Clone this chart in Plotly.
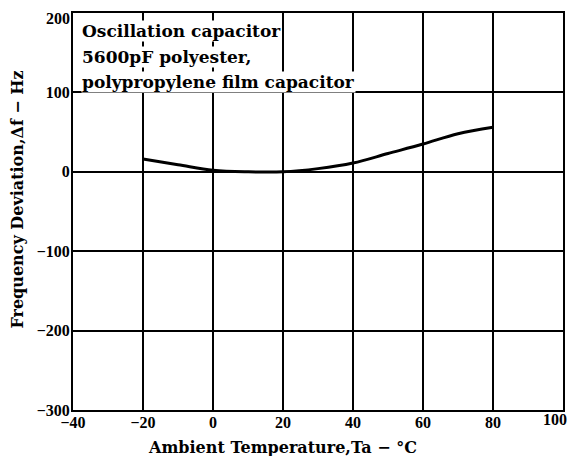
import plotly.graph_objects as go

temps = [-20, -10, 0, 10, 20, 30, 40, 50, 60, 70, 80]
deviation = [16, 9, 2, 0, 0, 4, 11, 23, 35, 48, 56]

x_ticks = [-40, -20, 0, 20, 40, 60, 80, 100]
x_labels = ["−40", "−20", "0", "20", "40", "60", "80", "100"]
y_ticks = [-300, -200, -100, 0, 100, 200]
y_labels = ["−300", "−200", "−100", "0", "100", "200"]
note_lines = ["Oscillation capacitor", "5600pF polyester,", "polypropylene film capacitor"]

FONT = "Liberation Serif"
TFONT = "DejaVu Serif"

# page body has an 8px margin; figure sized to fill the 577x464 window
W, H = 561, 448
L, T, R, B = 65, 5, 6, 46
PW, PH = W - L - R, H - T - B

fig = go.Figure()
fig.add_trace(go.Scatter(x=temps, y=deviation, mode="lines",
                         line=dict(color="black", width=3, shape="spline"),
                         showlegend=False, hoverinfo="skip"))

for i, (t, top) in enumerate(zip(note_lines, [12, 38, 63])):
    fig.add_annotation(xref="paper", yref="paper", x=8 / PW, y=1 - (top - T) / PH,
                       xanchor="left", yanchor="top", text=t, showarrow=False,
                       bgcolor="white", borderpad=0,
                       font=dict(family=TFONT, size=17, color="black", weight="bold"))

# axis titles
fig.add_annotation(xref="paper", yref="paper", x=(274 - L) / PW, y=-(428 - (T + PH)) / PH,
                   xanchor="center", yanchor="top", showarrow=False,
                   text="Ambient Temperature,Ta − °C",
                   font=dict(family=TFONT, size=16, color="black", weight="bold"))
fig.add_annotation(xref="paper", yref="paper", x=(10 - L) / PW, y=0.53,
                   xanchor="center", yanchor="middle", showarrow=False, textangle=-90,
                   text="Frequency Deviation,Δf − Hz",
                   font=dict(family=TFONT, size=16, color="black", weight="bold"))

tickfont = dict(family=FONT, size=16, color="black", weight="bold")
axis_common = dict(showgrid=True, gridcolor="black", zeroline=False, automargin=False,
                   showline=True, linecolor="black", linewidth=2, mirror=True,
                   ticks="", ticklabeloverflow="allow", tickfont=tickfont)

# edge labels drawn as anchored text so they stay inside the page
fig.add_annotation(xref="paper", yref="paper", x=(W - L) / PW, y=0,
                   xanchor="right", yanchor="top", yshift=1, showarrow=False,
                   text=x_labels[-1], font=tickfont)
fig.add_annotation(xref="paper", yref="paper", x=0, y=1 + T / PH,
                   xanchor="right", yanchor="top", xshift=-1, showarrow=False,
                   text=y_labels[-1], font=tickfont)

fig.update_xaxes(range=[-40, 100], tickvals=x_ticks[:-1], ticktext=x_labels[:-1],
                 gridwidth=2, ticklabelstandoff=-3, **axis_common)
fig.update_yaxes(range=[-300, 200], tickvals=y_ticks[:-1], ticktext=y_labels[:-1],
                 gridwidth=1.5, ticklabelstandoff=-2, **axis_common)

fig.update_layout(width=W, height=H, margin=dict(l=L, r=R, t=T, b=B),
                  plot_bgcolor="white", paper_bgcolor="white")

fig.write_html("out.html")
